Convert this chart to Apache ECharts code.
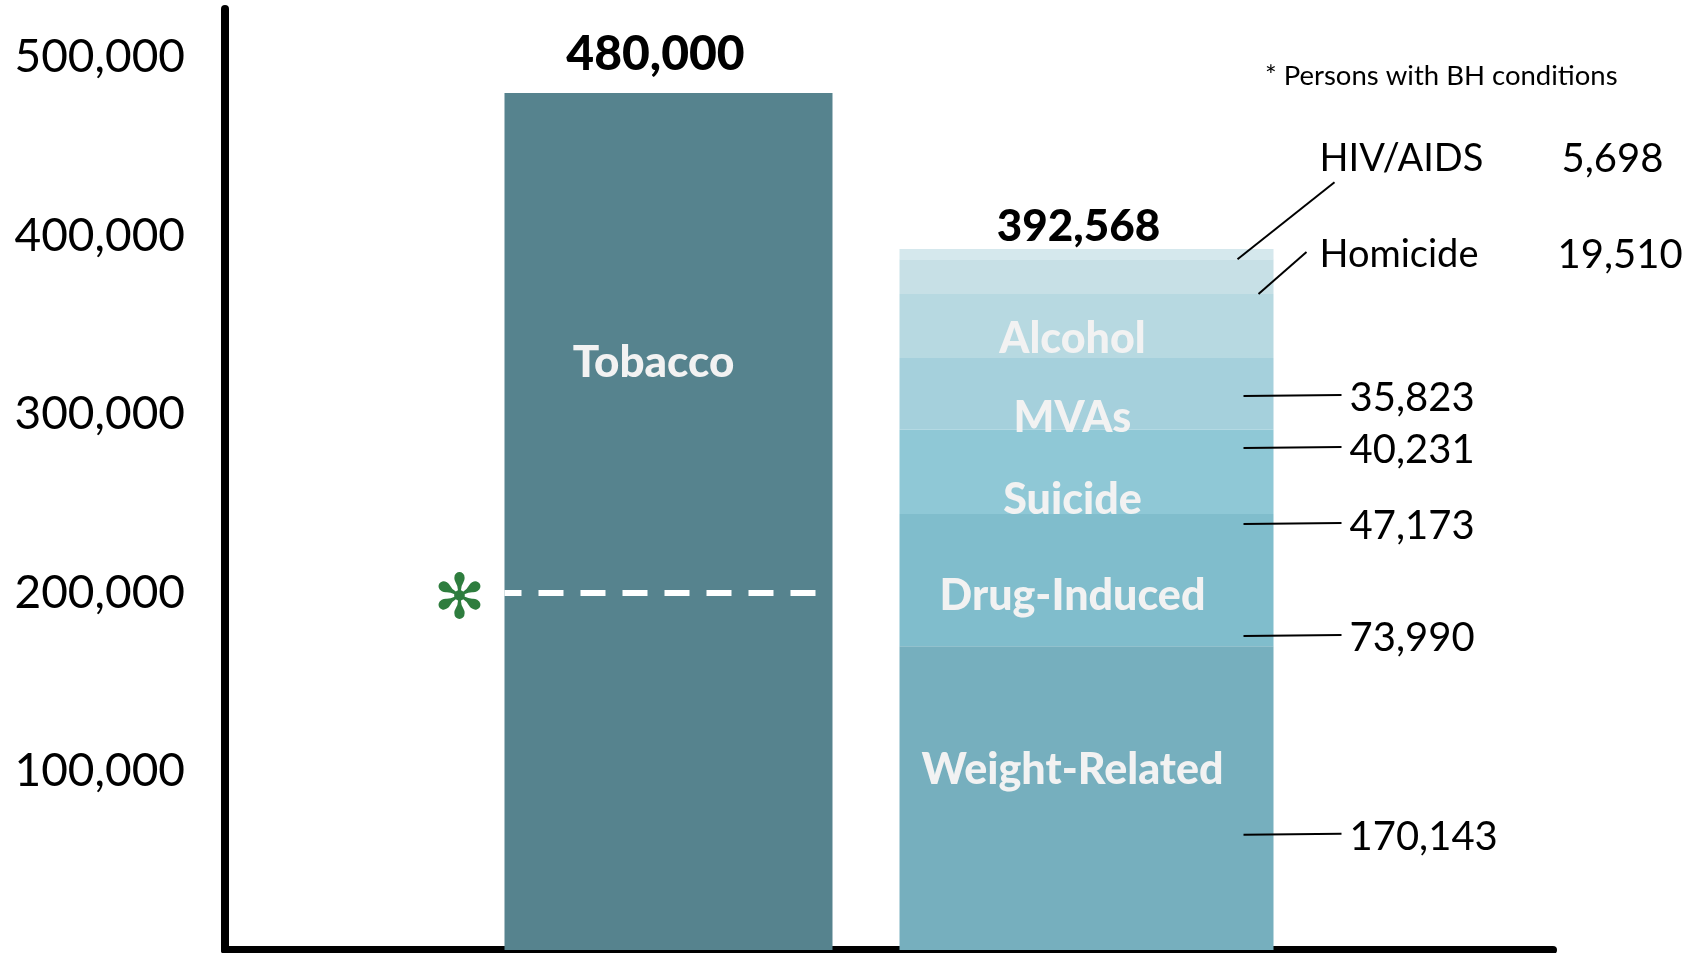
<!DOCTYPE html>
<html>
<head>
<meta charset="utf-8">
<script src="https://cdn.jsdelivr.net/npm/echarts@6/dist/echarts.min.js"></script>
<style>
html,body{margin:0;padding:0;background:#fff;}
#chart{width:1690px;height:953px;}
</style>
</head>
<body>
<div id="chart"></div>
<script>
// ---------- DATA ----------
const categories = ['Deaths'];
const tobaccoName = 'Tobacco';
const tobaccoValue = [480000];
const bhThreshold = 200000;            // dashed "persons with BH conditions" marker
const segmentNames = ['Weight-Related', 'Drug-Induced', 'Suicide', 'MVAs', 'Alcohol', 'Homicide', 'HIV/AIDS'];
const segmentValues = [170143, 73990, 47173, 40231, 35823, 19510, 5698];
const insideLabelled = ['Weight-Related', 'Drug-Induced', 'Suicide', 'MVAs', 'Alcohol'];
const footnoteText = '* Persons with BH conditions';

// ---------- STYLE / LAYOUT ----------
const FONT = 'Lato, "Noto Sans", sans-serif';
const tobaccoColor = '#56838e';
const segmentColors = ['#76afbe', '#80bdcc', '#8fc8d6', '#a5d0dc', '#b7d9e1', '#c7e0e6', '#d5e8ed'];
const insideLabelDy = [-28, 16, 28, 24, 13, 0, 0];
const leaderAnchor = [0.379, 0.077, -0.118, -0.252, -0.594]; // where each leader line points inside its segment (fraction from segment bottom)
const fmt = v => v.toLocaleString('en-US');

const chart = echarts.init(document.getElementById('chart'), null, {renderer: 'canvas'});

const tobW = 328, bhW = 374, gap = '20.43%';
const series = [];
series.push({
  name: tobaccoName, type: 'bar', stack: 'tob', barWidth: tobW, barGap: gap,
  data: tobaccoValue,
  itemStyle: {color: tobaccoColor},
  label: {show: true, position: ['50%', 270], align: 'center', verticalAlign: 'middle', offset: [-15, 0],
    formatter: tobaccoName, color: '#f2f2f2', fontFamily: FONT, fontWeight: 900, fontSize: 44}
});
series.push({
  name: 'tobTotal', type: 'bar', stack: 'tob', barWidth: tobW, barGap: gap,
  data: tobaccoValue.map(() => 0),
  itemStyle: {color: 'transparent'},
  label: {show: true, position: 'top', distance: 14, offset: [-13, 0],
    formatter: () => fmt(tobaccoValue.reduce((a, b) => a + b, 0)),
    color: '#000', fontFamily: FONT, fontWeight: 900, fontSize: 48}
});
segmentNames.forEach((n, i) => {
  series.push({
    name: n, type: 'bar', stack: 'bh', barWidth: bhW, barGap: gap,
    data: [segmentValues[i]],
    itemStyle: {color: segmentColors[i]},
    label: {show: insideLabelled.includes(n), position: 'inside', offset: [-14, insideLabelDy[i]],
      formatter: n, color: '#f2f2f2', fontFamily: FONT, fontWeight: 900, fontSize: 43}
  });
});
series.push({
  name: 'bhTotal', type: 'bar', stack: 'bh', barWidth: bhW, barGap: gap,
  data: [0],
  itemStyle: {color: 'transparent'},
  label: {show: true, position: 'top', distance: 0, offset: [-8, 0],
    formatter: () => fmt(segmentValues.reduce((a, b) => a + b, 0)),
    color: '#000', fontFamily: FONT, fontWeight: 900, fontSize: 44}
});

const option = {
  animation: false,
  backgroundColor: '#fff',
  grid: {left: 225, right: 137, top: 9, bottom: 3, containLabel: false, outerBoundsMode: 'none'},
  xAxis: {
    type: 'category', data: categories,
    axisLine: {show: true, lineStyle: {color: '#000', width: 8}},
    axisTick: {show: false}, axisLabel: {show: false}
  },
  yAxis: {
    type: 'value', min: 0, max: 527000, interval: 100000,
    axisLine: {show: true, lineStyle: {color: '#000', width: 8}},
    axisTick: {show: false}, splitLine: {show: false},
    axisLabel: {show: true, showMinLabel: false, showMaxLabel: false, margin: 40,
      formatter: v => (v % 100000 === 0 ? fmt(v) : ''),
      color: '#000', fontFamily: FONT, fontSize: 46}
  },
  series: series
};
chart.setOption(option);

// ---------- annotations derived from the rendered bars ----------
function rectOf(seriesIndex) {
  const l = chart.getModel().getSeriesByIndex(seriesIndex).getData().getItemLayout(0);
  return {
    left: Math.min(l.x, l.x + l.width), right: Math.max(l.x, l.x + l.width),
    top: Math.min(l.y, l.y + l.height), bottom: Math.max(l.y, l.y + l.height)
  };
}
const Z = 100;
const g = [];
const tob = rectOf(0);
const yBH = chart.convertToPixel({yAxisIndex: 0}, bhThreshold);
g.push({type: 'line', silent: true, z: Z, shape: {x1: tob.left, y1: yBH, x2: tob.right - 16, y2: yBH},
  style: {stroke: '#ffffff', lineWidth: 6, lineDash: [25, 17], lineDashOffset: 8}});
g.push({type: 'text', silent: true, z: Z, x: tob.left - 45, y: yBH + 9,
  style: {text: '✻', fill: '#2e7d3e', font: 'bold 62px "DejaVu Sans"', textAlign: 'center', align: 'center', textVerticalAlign: 'middle', verticalAlign: 'middle'}});

const segRects = segmentNames.map((n, i) => rectOf(2 + i));
const txt = (text, x, y, size, align) => ({type: 'text', silent: true, z: Z, x, y,
  style: {text, fill: '#000', font: size + 'px ' + FONT, textAlign: align || 'left', align: align || 'left', textVerticalAlign: 'middle', verticalAlign: 'middle'}});
const ln = (x1, y1, x2, y2) => ({type: 'line', silent: true, z: Z, shape: {x1, y1, x2, y2}, style: {stroke: '#000', lineWidth: 2}});

// lower five segments: straight leader lines with value
for (let i = 0; i < 5; i++) {
  const r = segRects[i];
  const y = r.bottom - leaderAnchor[i] * (r.bottom - r.top);
  g.push(ln(r.right - 30, y, r.right + 68, y - 1));
  g.push(txt(fmt(segmentValues[i]), r.right + 76, y + 2, 40));
}
// Homicide and HIV/AIDS: slanted leader lines with name + value
const hom = segRects[5], hiv = segRects[6];
g.push(ln(hom.right - 15, hom.bottom, hom.right + 33, hom.bottom - 42));
g.push(txt(segmentNames[5], hom.right + 46, hom.bottom - 39, 38));
g.push(txt(fmt(segmentValues[5]), hom.right + 284, hom.bottom - 39, 40));
g.push(ln(hiv.right - 36, hiv.bottom, hiv.right + 61, hiv.bottom - 77));
g.push(txt(segmentNames[6], hiv.right + 46, hiv.bottom - 100, 38));
g.push(txt(fmt(segmentValues[6]), hiv.right + 288, hiv.bottom - 100, 40));
// footnote
g.push(txt(footnoteText, 1265, 76, 27.5));

chart.setOption({graphic: {elements: g}});
</script>
</body>
</html>
